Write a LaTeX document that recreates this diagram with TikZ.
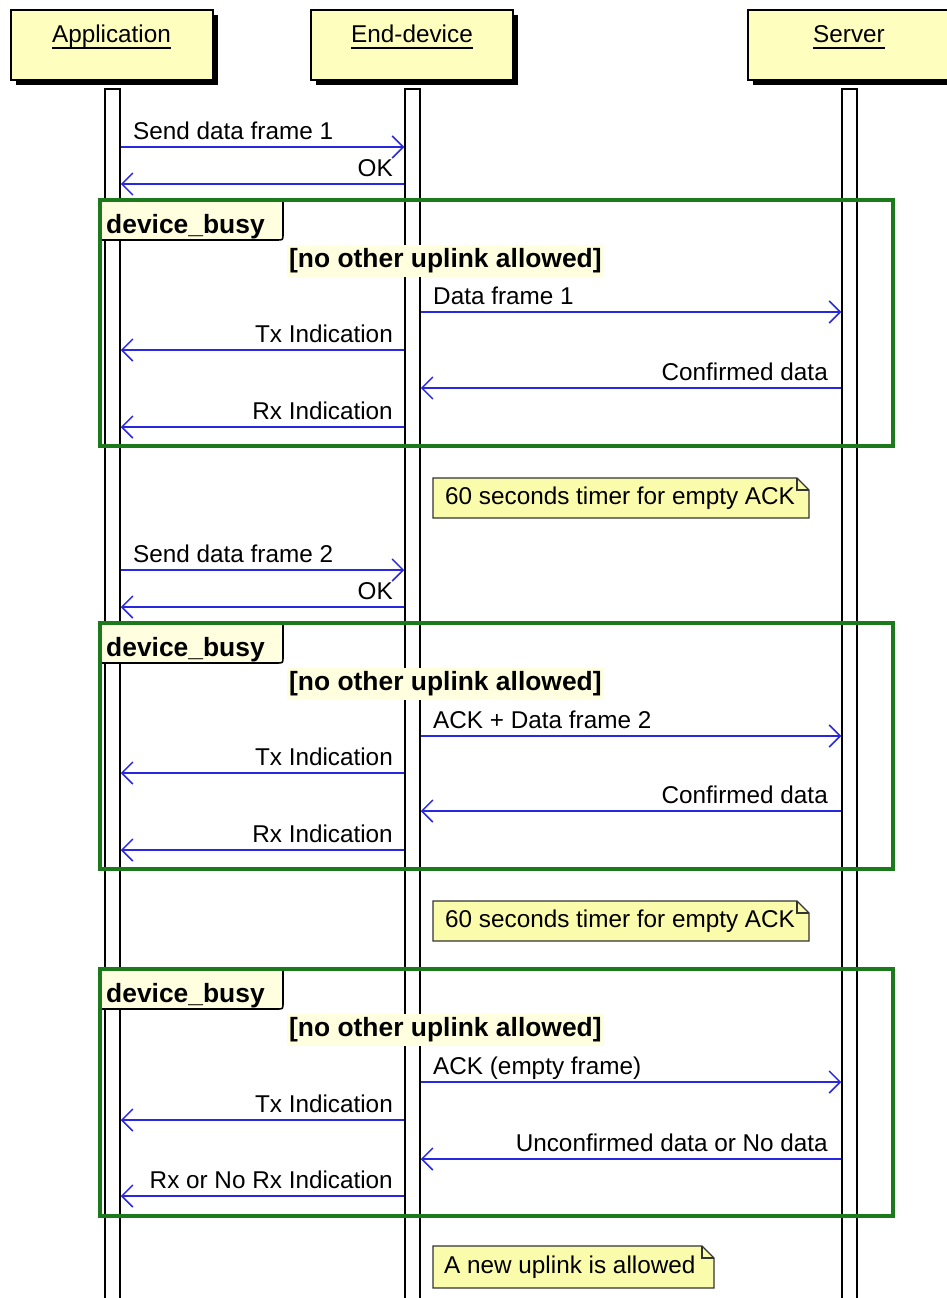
\documentclass[tikz,border=0pt]{standalone}
\usepackage{fontspec}
\setmainfont{Liberation Sans}
\usepackage{tikz}
\usetikzlibrary{arrows.meta,calc,shadows}
\definecolor{msgblue}{RGB}{40,40,225}
\definecolor{grpgreen}{RGB}{28,122,28}
\definecolor{partyellow}{RGB}{254,254,190}
\definecolor{noteyellow}{RGB}{251,251,172}
\definecolor{guardyellow}{RGB}{255,255,224}
\def\txt{\fontsize{24.3}{28}\selectfont}
\def\btxt{\fontsize{26.4}{30}\selectfont\bfseries}
% underline at a fixed depth, whatever the letters
\def\ul#1{\vtop{\hbox{\raisebox{0pt}[\height][0pt]{#1}}\kern4pt\hrule height 1.6pt}}

\tikzset{
  actor/.style={draw=black,line width=2,fill=partyellow,minimum width=202,minimum height=70,
    inner sep=0,drop shadow={fill=black,opacity=1,shadow xshift=5pt,shadow yshift=-5pt}},
  actorlbl/.style={font=\txt,inner sep=0,anchor=base},
  bar/.style={draw=black,line width=1.5,fill=white,minimum width=15,minimum height=1230,inner sep=0,anchor=north},
  msg/.style={draw=msgblue,line width=1.5,-{Straight Barb[length=11pt,width=22pt]}},
  lbl/.style={font=\txt,inner sep=0},
  frame/.style={draw=grpgreen,line width=3.2},
  tab/.style={draw=black,line width=1.6,fill=guardyellow},
  tablbl/.style={font=\btxt,inner sep=0,anchor=base west},
  guard/.style={font=\btxt,fill=guardyellow,inner xsep=2,inner ysep=0,minimum height=32,anchor=west},
  notebox/.style={draw=black!80,line width=1.2,fill=noteyellow}
}

\begin{document}
\begin{tikzpicture}[x=1pt,y=-1pt]
\useasboundingbox (0,0) rectangle (947,1298);

%lifelines
\node[bar] (appbar) at (112.5,88) {};
\node[bar] (devbar) at (412.5,88) {};
\node[bar] (srvbar) at (849.5,88) {};

%participants
\node[actor] (appbox) at (111.5,45) {};
\node[actorlbl] (applbl) at (111.5,43) {\ul{Application}};
\node[actor] (devbox) at (412,45) {};
\node[actorlbl] (devlbl) at (412,43) {\ul{End-device}};
\node[actor] (srvbox) at (849,45) {};
\node[actorlbl] (srvlbl) at (849,43) {\ul{Server}};

%first uplink
\draw[msg] (appbar.east |- 0,147) -- (devbar.west |- 0,147);
\node[lbl,anchor=base west] (snd1) at (133,139) {Send data frame 1};
\draw[msg] (devbar.west |- 0,184) -- (appbar.east |- 0,184);
\node[lbl,anchor=base east] (ok1) at (393,176) {OK};

\draw[tab] (100,200) -- (283,200) -- (283,234) .. controls (283,240) .. (277,240) -- (100,240);
\draw[frame] (100,200) rectangle (893,446);
\node[tablbl] (busy1) at (106,233) {device\_busy};
\node[guard] (grd1) at (287,261) {[no other uplink allowed]};

\draw[msg] (devbar.east |- 0,312) -- (srvbar.west |- 0,312);
\node[lbl,anchor=base west] (up1) at (433,304) {Data frame 1};
\draw[msg] (devbar.west |- 0,350) -- (appbar.east |- 0,350);
\node[lbl,anchor=base east] (tx1) at (393,342) {Tx Indication};
\draw[msg] (srvbar.west |- 0,388) -- (devbar.east |- 0,388);
\node[lbl,anchor=base east] (dn1) at (828,380) {Confirmed data};
\draw[msg] (devbar.west |- 0,427) -- (appbar.east |- 0,427);
\node[lbl,anchor=base east] (rx1) at (393,419) {Rx Indication};

\draw[notebox] (433,478) -- (797,478) -- (809,490) -- (809,518) -- (433,518) -- cycle;
\draw[black!80,line width=1.2] (797,478) -- (797,490) -- (809,490);
\node[lbl,anchor=west] (tmr1) at (445,498) {60 seconds timer for empty ACK};

%second uplink
\draw[msg] (appbar.east |- 0,570) -- (devbar.west |- 0,570);
\node[lbl,anchor=base west] (snd2) at (133,562) {Send data frame 2};
\draw[msg] (devbar.west |- 0,607) -- (appbar.east |- 0,607);
\node[lbl,anchor=base east] (ok2) at (393,599) {OK};

\draw[tab] (100,623) -- (283,623) -- (283,657) .. controls (283,663) .. (277,663) -- (100,663);
\draw[frame] (100,623) rectangle (893,869);
\node[tablbl] (busy2) at (106,656) {device\_busy};
\node[guard] (grd2) at (287,684) {[no other uplink allowed]};

\draw[msg] (devbar.east |- 0,736) -- (srvbar.west |- 0,736);
\node[lbl,anchor=base west] (up2) at (433,728) {ACK + Data frame 2};
\draw[msg] (devbar.west |- 0,773) -- (appbar.east |- 0,773);
\node[lbl,anchor=base east] (tx2) at (393,765) {Tx Indication};
\draw[msg] (srvbar.west |- 0,811) -- (devbar.east |- 0,811);
\node[lbl,anchor=base east] (dn2) at (828,803) {Confirmed data};
\draw[msg] (devbar.west |- 0,850) -- (appbar.east |- 0,850);
\node[lbl,anchor=base east] (rx2) at (393,842) {Rx Indication};

\draw[notebox] (433,901) -- (797,901) -- (809,913) -- (809,941) -- (433,941) -- cycle;
\draw[black!80,line width=1.2] (797,901) -- (797,913) -- (809,913);
\node[lbl,anchor=west] (tmr2) at (445,921) {60 seconds timer for empty ACK};

%empty ack
\draw[tab] (100,969) -- (283,969) -- (283,1003) .. controls (283,1009) .. (277,1009) -- (100,1009);
\draw[frame] (100,969) rectangle (893,1216);
\node[tablbl] (busy3) at (106,1002) {device\_busy};
\node[guard] (grd3) at (287,1030) {[no other uplink allowed]};

\draw[msg] (devbar.east |- 0,1082) -- (srvbar.west |- 0,1082);
\node[lbl,anchor=base west] (up3) at (433,1074) {ACK (empty frame)};
\draw[msg] (devbar.west |- 0,1120) -- (appbar.east |- 0,1120);
\node[lbl,anchor=base east] (tx3) at (393,1112) {Tx Indication};
\draw[msg] (srvbar.west |- 0,1159) -- (devbar.east |- 0,1159);
\node[lbl,anchor=base east] (dn3) at (828,1151) {Unconfirmed data or No data};
\draw[msg] (devbar.west |- 0,1196) -- (appbar.east |- 0,1196);
\node[lbl,anchor=base east] (rx3) at (393,1188) {Rx or No Rx Indication};

\draw[notebox] (433,1246) -- (702,1246) -- (714,1258) -- (714,1288) -- (433,1288) -- cycle;
\draw[black!80,line width=1.2] (702,1246) -- (702,1258) -- (714,1258);
\node[lbl,anchor=west] (newup) at (444,1267) {A new uplink is allowed};
\end{tikzpicture}
\end{document}
